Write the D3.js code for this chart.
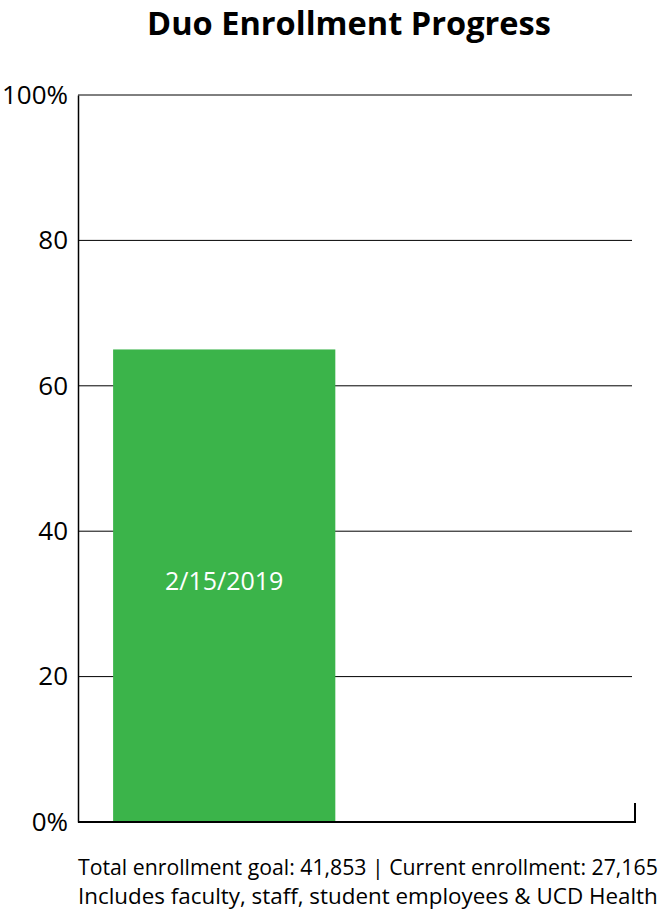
<!DOCTYPE html>
<html>
<head>
<meta charset="utf-8">
<script src="https://cdn.jsdelivr.net/npm/d3@7"></script>
<style>
  body { margin: 0; background: #fff; }
  svg { display: block; font-family: 'Open Sans', sans-serif; }
</style>
</head>
<body>
<svg id="chart"></svg>
<script>
// data
const dates = ['2/15/2019'];
const enrolledPct = [65];
const yTicks = [0, 20, 40, 60, 80, 100];
const footnotes = [
  'Total enrollment goal: 41,853 | Current enrollment: 27,165',
  'Includes faculty, staff, student employees & UCD Health'
];

const width = 669, height = 912;
const margin = { top: 95, right: 34, bottom: 90, left: 78 };

const svg = d3.select('#chart').attr('width', width).attr('height', height);

// shrink/grow a text's font so it spans about `target` px
const fitWidth = (sel, base, target) => {
  sel.each(function () {
    const w = this.getComputedTextLength();
    if (w > 0) d3.select(this).style('font-size', (base * target / w).toFixed(2) + 'px');
  });
};

const plotRight = width - margin.right;
const yScale = d3.scaleLinear()
  .domain([0, 100])
  .range([height - margin.bottom, margin.top]);

// bar occupies the left slot of the plot
const xScale = d3.scaleBand()
  .domain(dates)
  .range([margin.left, margin.left + (plotRight - margin.left) * 0.525])
  .paddingInner(0)
  .paddingOuter(0.158);

// gridlines
svg.append('g')
  .selectAll('line')
  .data(yTicks.filter(d => d > 0))
  .enter()
  .append('line')
  .attr('x1', margin.left)
  .attr('x2', plotRight - 3)
  .attr('y1', d => yScale(d))
  .attr('y2', d => yScale(d))
  .attr('stroke', '#000')
  .attr('stroke-width', 1);

// bars
svg.append('g')
  .selectAll('rect')
  .data(enrolledPct)
  .enter()
  .append('rect')
  .attr('x', (_, i) => xScale(dates[i]))
  .attr('y', d => yScale(d))
  .attr('width', xScale.bandwidth())
  .attr('height', d => yScale(0) - yScale(d))
  .attr('fill', '#3bb44a');

svg.append('g')
  .selectAll('text')
  .data(enrolledPct)
  .enter()
  .append('text')
  .attr('x', (_, i) => xScale(dates[i]) + xScale.bandwidth() / 2)
  .attr('y', d => yScale(d / 2) + 4)
  .attr('text-anchor', 'middle')
  .attr('fill', '#fff')
  .style('font-size', '25px')
  .text((_, i) => dates[i]);

// y axis
const yAxis = svg.append('g')
  .attr('transform', `translate(${margin.left},0)`)
  .call(d3.axisLeft(yScale)
    .tickValues(yTicks)
    .tickSize(0)
    .tickPadding(10)
    .tickFormat(d => (d === 0 || d === 100) ? d + '%' : d));
yAxis.select('.domain').attr('stroke', '#000').attr('stroke-width', 1.5);
yAxis.selectAll('text')
  .style('font-size', '26px')
  .style('font-family', "'Open Sans', sans-serif")
  .attr('fill', '#000');

// x axis baseline with end tick
const y0 = yScale(0);
svg.append('path')
  .attr('d', `M${margin.left},${y0}H${plotRight}V${y0 - 19}`)
  .attr('fill', 'none')
  .attr('stroke', '#000')
  .attr('stroke-width', 2);

// title
svg.append('text')
  .attr('x', 349)
  .attr('y', 35)
  .attr('text-anchor', 'middle')
  .style('font-size', '30px')
  .style('font-weight', 'bold')
  .text('Duo Enrollment Progress')
  .call(fitWidth, 30, 404);

// footnotes
svg.append('g')
  .selectAll('text')
  .data(footnotes)
  .enter()
  .append('text')
  .attr('x', margin.left)
  .attr('y', (_, i) => 875 + i * 29)
  .style('font-size', '20px')
  .text(d => d)
  .call(fitWidth, 20, 580);
</script>
</body>
</html>
